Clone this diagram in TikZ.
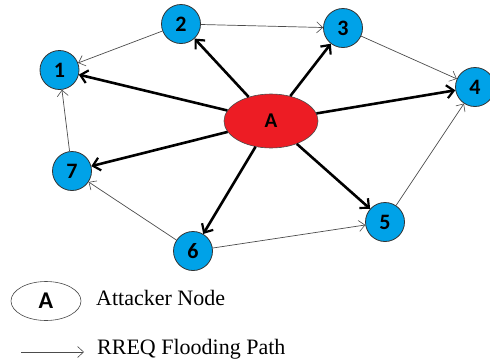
\documentclass[tikz,border=0pt]{standalone}
\usepackage{fontspec}
\setmainfont{Liberation Serif}
\newfontfamily\lblfont{Carlito}
\usetikzlibrary{arrows.meta,shapes.geometric}
\definecolor{nodeblue}{RGB}{0,162,232}
\definecolor{attred}{RGB}{237,28,36}
\tikzset{
  peer/.style={circle,draw=black!80,line width=0.8pt,fill=nodeblue,minimum size=39pt,inner sep=0pt,font=\lblfont\bfseries\fontsize{22}{22}\selectfont},
  attacker/.style={ellipse,draw=black!70,line width=0.6pt,fill=attred,minimum width=94pt,minimum height=54pt,inner sep=0pt,font=\lblfont\bfseries\fontsize{21}{21}\selectfont},
  flood/.style={line width=2.6pt,-{Straight Barb[length=7pt,width=13pt,line width=2.2pt]}},
  rreq/.style={draw=black!70,line width=0.7pt,-{Straight Barb[length=6pt,width=11pt,line width=0.6pt]}},
  legtext/.style={anchor=west,font=\fontsize{22}{22}\selectfont,inner sep=0pt}
}
\begin{document}
\begin{tikzpicture}[x=1pt,y=-1pt]
\useasboundingbox (0,0) rectangle (490,362);
\node[peer] (n1) at (59.5,70) {1};
\node[peer] (n2) at (181,24) {2};
\node[peer] (n3) at (343,28) {3};
\node[peer] (n4) at (475,87) {4};
\node[peer] (n5) at (385,222) {5};
\node[peer] (n6) at (193,251) {6};
\node[peer] (n7) at (72,171) {7};
\node[attacker] (A) at (271,121) {A};
\foreach \t in {n1,n2,n3,n4,n5,n6,n7} \draw[flood] (A) -- (\t);
\draw[rreq] (n2) -- (n1);
\draw[rreq] (n2) -- (n3);
\draw[rreq] (n3) -- (n4);
\draw[rreq] (n5) -- (n4);
\draw[rreq] (n6) -- (n5);
\draw[rreq] (n6) -- (n7);
\draw[rreq] (n7) -- (n1);
% legend
\node[ellipse,draw=black!70,line width=0.6pt,minimum width=70pt,minimum height=39pt,inner sep=0pt,font=\lblfont\bfseries\fontsize{24}{24}\selectfont] (legA) at (46,301) {A};
\node[legtext] (legAt) at (96,298) {Attacker Node};
\coordinate (la) at (21,352);
\coordinate (lb) at (84,352);
\draw[rreq] (la) -- (lb);
\node[legtext] (legR) at (97,349) {RREQ Flooding Path};
\end{tikzpicture}
\end{document}
